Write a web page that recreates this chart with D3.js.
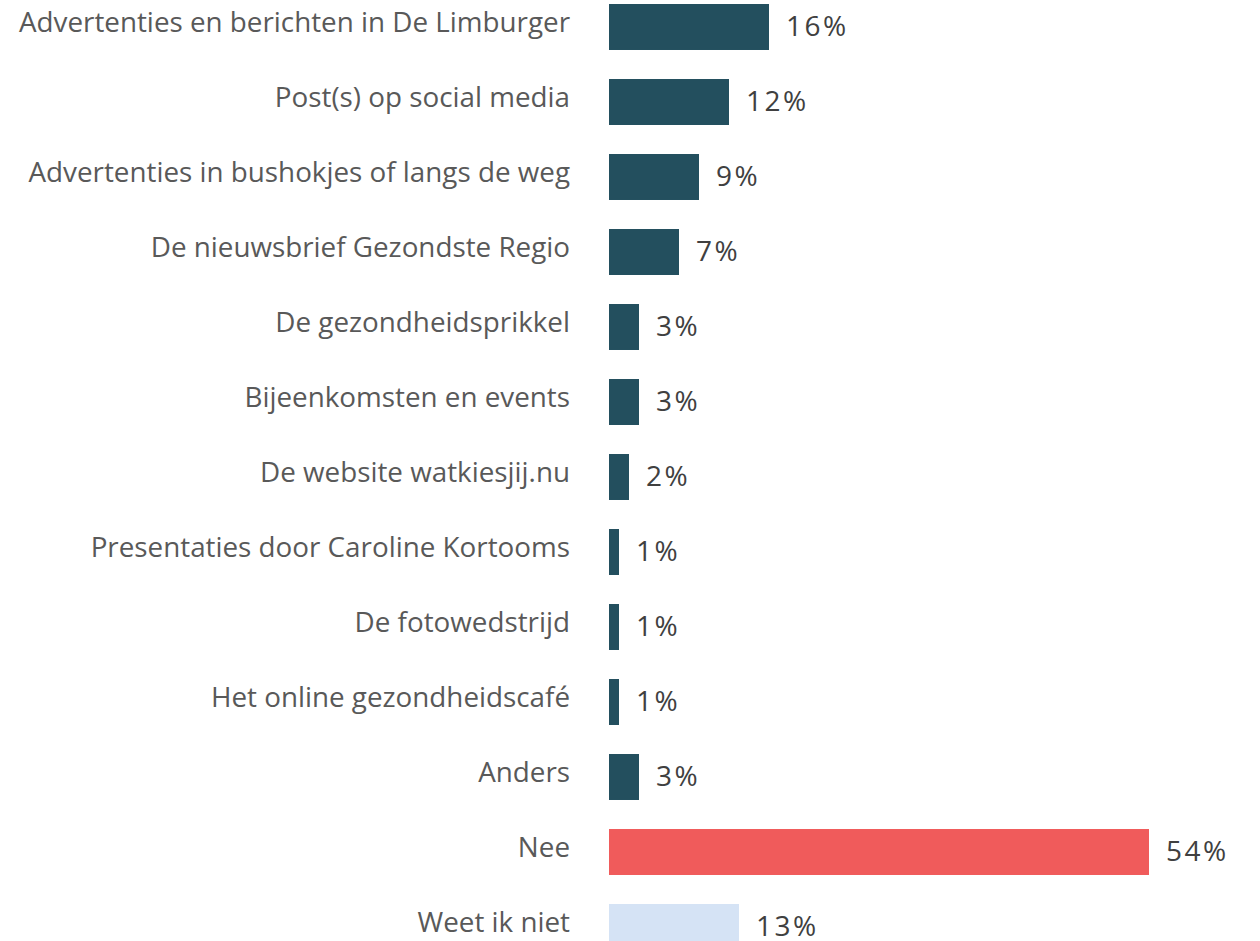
<!DOCTYPE html>
<html>
<head>
<meta charset="utf-8">
<script src="https://cdn.jsdelivr.net/npm/d3@7"></script>
<style>
  body { margin: 0; background: #fff; }
  svg { display: block; }
</style>
</head>
<body>
<svg id="chart"></svg>
<script>
const categories = [
  "Advertenties en berichten in De Limburger",
  "Post(s) op social media",
  "Advertenties in bushokjes of langs de weg",
  "De nieuwsbrief Gezondste Regio",
  "De gezondheidsprikkel",
  "Bijeenkomsten en events",
  "De website watkiesjij.nu",
  "Presentaties door Caroline Kortooms",
  "De fotowedstrijd",
  "Het online gezondheidscafé",
  "Anders",
  "Nee",
  "Weet ik niet"
]
const values = [16, 12, 9, 7, 3, 3, 2, 1, 1, 1, 3, 54, 13]
const barColors = ["#234f5e", "#234f5e", "#234f5e", "#234f5e", "#234f5e", "#234f5e",
  "#234f5e", "#234f5e", "#234f5e", "#234f5e", "#234f5e", "#f05b5b", "#d5e3f5"]

const width = 1260, height = 941
const svg = d3.select("#chart").attr("width", width).attr("height", height)

const x = d3.scaleLinear().domain([0, 54]).range([609, 1149])
const y = d3.scaleBand().domain(categories).range([-10.5, 964.5])
  .paddingInner(0.387).paddingOuter(0.387 / 2)

// bars
svg.selectAll(".bar").data(categories).join("rect").attr("class", "bar")
  .attr("x", x(0))
  .attr("y", d => y(d))
  .attr("width", (d, i) => x(values[i]) - x(0))
  .attr("height", y.bandwidth())
  .attr("fill", (d, i) => barColors[i])

// category labels
svg.selectAll(".cat").data(categories).join("text").attr("class", "cat")
  .attr("x", 570)
  .attr("y", d => y(d) + y.bandwidth() / 2 - 5)
  .attr("dy", "0.35em")
  .attr("text-anchor", "end")
  .attr("font-family", "'Open Sans', sans-serif")
  .attr("font-size", 27.8)
  .attr("fill", "#595959")
  .text(d => d)

// value labels
svg.selectAll(".val").data(categories).join("text").attr("class", "val")
  .attr("x", (d, i) => x(values[i]) + 17)
  .attr("y", d => y(d) + y.bandwidth() / 2 - 1)
  .attr("dy", "0.35em")
  .attr("font-family", "'Open Sans', sans-serif")
  .attr("font-size", 28)
  .attr("letter-spacing", 2.5)
  .attr("fill", "#404040")
  .text((d, i) => values[i] + "%")
</script>
</body>
</html>
